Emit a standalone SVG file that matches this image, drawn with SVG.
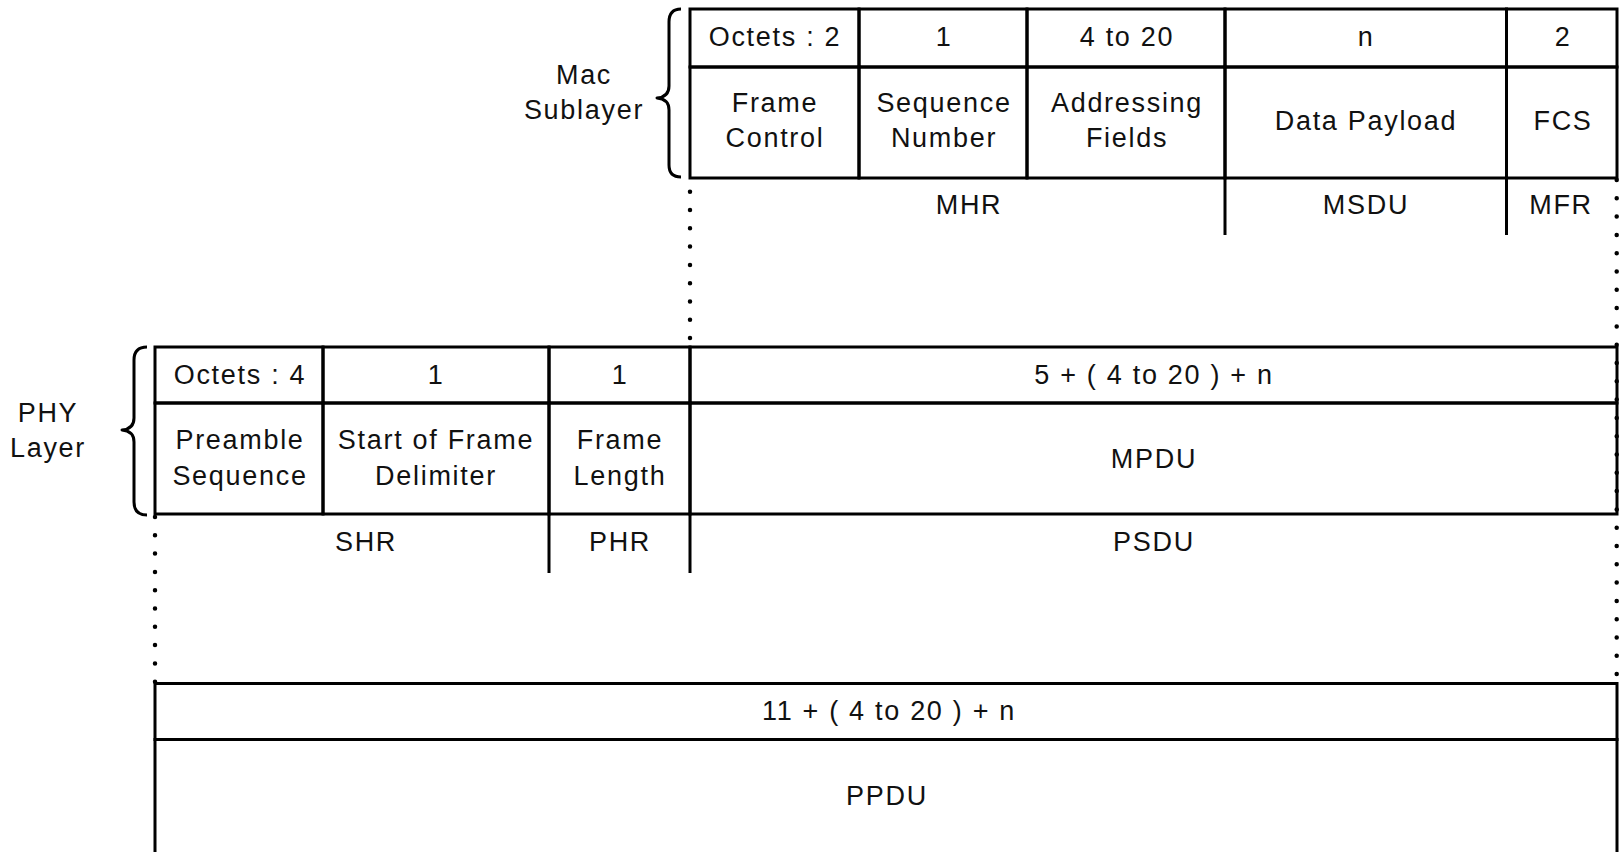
<svg xmlns="http://www.w3.org/2000/svg" width="1619" height="852" viewBox="0 0 1619 852">
<style>
.c{fill:none;stroke:#000;stroke-width:3}
.t{font-family:"Liberation Sans",Arial,sans-serif;font-size:27px;letter-spacing:1.7px;fill:#111;text-anchor:middle}
.d{fill:none;stroke:#000;stroke-width:4.5;stroke-linecap:round;stroke-dasharray:0 18.3}
.s{fill:none;stroke:#000;stroke-width:3}
.b{fill:none;stroke:#000;stroke-width:3;stroke-linejoin:round}
</style>
<rect width="1619" height="852" fill="#fff"/>
<g id="connectors">
<path class="d" d="M690,191.7 V345"/>
<path class="d" d="M1616.7,180 V685"/>
<path class="d" d="M155,517 V685"/>
<path class="s" d="M1225,178 V235 M1506.5,178 V235"/>
<path class="s" d="M549,514 V573 M690,514 V573"/>
</g>
<g id="mac-brace"><path class="b" d="M681,9 Q669,9 669,22 V86 Q669,97 657,98 Q669,99 669,110 V165 Q669,177 681,177"/></g>
<g id="phy-brace"><path class="b" d="M147,347 Q134,347 134,360 V418 Q134,429 122,430 Q134,431 134,442 V502 Q134,515 147,515"/></g>
<g id="mac-label"><text class="t" x="584" y="84">Mac</text><text class="t" x="584" y="119">Sublayer</text></g>
<g id="phy-label"><text class="t" x="48" y="422">PHY</text><text class="t" x="48" y="457">Layer</text></g>
<g id="frame-control"><rect class="c" x="690" y="9" width="169" height="58"/><rect class="c" x="690" y="67" width="169" height="111"/><text class="t" x="775" y="46">Octets : 2</text><text class="t" x="775" y="112">Frame</text><text class="t" x="775" y="147">Control</text></g>
<g id="sequence-number"><rect class="c" x="859" y="9" width="168" height="58"/><rect class="c" x="859" y="67" width="168" height="111"/><text class="t" x="944" y="46">1</text><text class="t" x="944" y="112">Sequence</text><text class="t" x="944" y="147">Number</text></g>
<g id="addressing-fields"><rect class="c" x="1027" y="9" width="198" height="58"/><rect class="c" x="1027" y="67" width="198" height="111"/><text class="t" x="1127" y="46">4 to 20</text><text class="t" x="1127" y="112">Addressing</text><text class="t" x="1127" y="147">Fields</text></g>
<g id="data-payload"><rect class="c" x="1225" y="9" width="281.5" height="58"/><rect class="c" x="1225" y="67" width="281.5" height="111"/><text class="t" x="1366" y="46">n</text><text class="t" x="1366" y="130">Data Payload</text></g>
<g id="fcs"><rect class="c" x="1506.5" y="9" width="110.5" height="58"/><rect class="c" x="1506.5" y="67" width="110.5" height="111"/><text class="t" x="1563" y="46">2</text><text class="t" x="1563" y="130">FCS</text></g>
<g id="mac-sections"><text class="t" x="969" y="214">MHR</text><text class="t" x="1366" y="214">MSDU</text><text class="t" x="1561" y="214">MFR</text></g>
<g id="preamble"><rect class="c" x="155" y="347" width="168" height="56"/><rect class="c" x="155" y="403" width="168" height="111"/><text class="t" x="240" y="384">Octets : 4</text><text class="t" x="240" y="449">Preamble</text><text class="t" x="240" y="485">Sequence</text></g>
<g id="sfd"><rect class="c" x="323" y="347" width="226" height="56"/><rect class="c" x="323" y="403" width="226" height="111"/><text class="t" x="436" y="384">1</text><text class="t" x="436" y="449">Start of Frame</text><text class="t" x="436" y="485">Delimiter</text></g>
<g id="frame-length"><rect class="c" x="549" y="347" width="141" height="56"/><rect class="c" x="549" y="403" width="141" height="111"/><text class="t" x="620" y="384">1</text><text class="t" x="620" y="449">Frame</text><text class="t" x="620" y="485">Length</text></g>
<g id="mpdu"><rect class="c" x="690" y="347" width="927" height="56"/><rect class="c" x="690" y="403" width="927" height="111"/><text class="t" x="1154" y="384">5 + ( 4 to 20 ) + n</text><text class="t" x="1154" y="468">MPDU</text></g>
<g id="phy-sections"><text class="t" x="366" y="551">SHR</text><text class="t" x="620" y="551">PHR</text><text class="t" x="1154" y="551">PSDU</text></g>
<g id="ppdu"><rect class="c" x="155" y="683.5" width="1462" height="56"/><rect class="c" x="155" y="739.5" width="1462" height="130"/><text class="t" x="889" y="720">11 + ( 4 to 20 ) + n</text><text class="t" x="887" y="805">PPDU</text></g>
</svg>
